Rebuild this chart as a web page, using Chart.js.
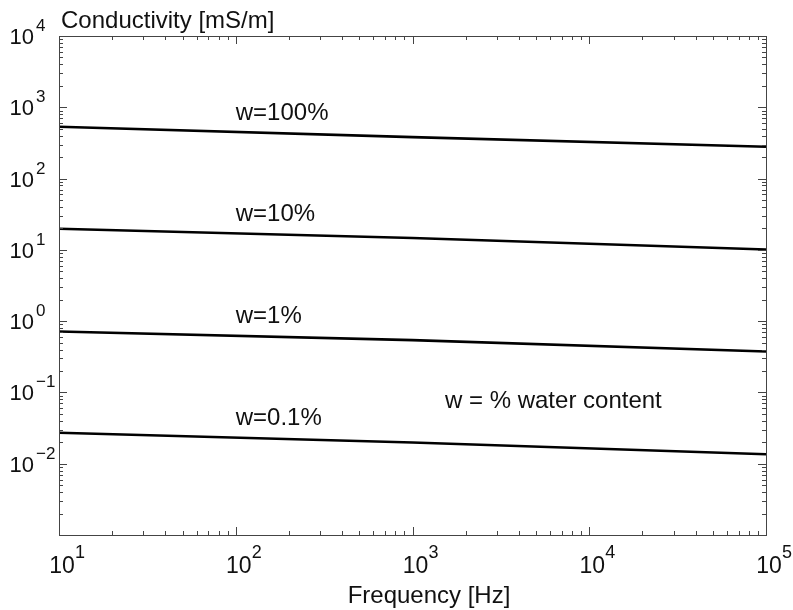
<!DOCTYPE html>
<html>
<head>
<meta charset="utf-8">
<script src="https://cdn.jsdelivr.net/npm/chart.js@4/dist/chart.umd.min.js"></script>
<style>
  body { margin: 0; background: #fff; }
  canvas { display: block; }
</style>
</head>
<body>
<canvas id="chart" width="793" height="610"></canvas>
<script>
// Frequency points (Hz)
const frequencies = [10, 1000, 100000];

// Conductivity [mS/m] for each water content
const w100 = [532, 381, 279];
const w10 = [19.8, 14.7, 10.1];
const w1 = [0.714, 0.541, 0.375];
const w01 = [0.0272, 0.0198, 0.0136];

const seriesLabels = ['w=100%', 'w=10%', 'w=1%', 'w=0.1%'];
const seriesValues = [w100, w10, w1, w01];

// Decade tick exponents
const xExponents = [1, 2, 3, 4, 5];
const yExponents = [4, 3, 2, 1, 0, -1, -2];

const FONT = '"Liberation Sans", Arial, sans-serif';

const datasets = seriesValues.map((vals, i) => ({
    label: seriesLabels[i],
    data: frequencies.map((f, j) => ({ x: f, y: vals[j] })),
    borderColor: '#000',
    borderWidth: 2.6,
    pointRadius: 0,
    showLine: true,
    fill: false
}));

// Draws the MATLAB-like box, inward ticks, power-of-ten labels and texts
const matlabAxes = {
    id: 'matlabAxes',
    afterDraw(chart) {
        const ctx = chart.ctx;
        const { left, right, top, bottom } = chart.chartArea;
        const xs = chart.scales.x;
        const ys = chart.scales.y;
        ctx.save();

        // frame
        ctx.strokeStyle = '#444';
        ctx.lineWidth = 1;
        ctx.strokeRect(left + 0.5, top + 0.5, right - left, bottom - top);

        // ticks
        ctx.beginPath();
        for (let e = 1; e <= 5; e++) {
            for (let m = 1; m <= 9; m++) {
                const v = m * Math.pow(10, e);
                if (v > 100000) break;
                const px = Math.round(xs.getPixelForValue(v)) + 0.5;
                const len = m === 1 ? 8 : 4;
                ctx.moveTo(px, bottom); ctx.lineTo(px, bottom - len);
                ctx.moveTo(px, top); ctx.lineTo(px, top + len);
            }
        }
        for (let e = -3; e <= 4; e++) {
            for (let m = 1; m <= 9; m++) {
                const v = m * Math.pow(10, e);
                if (v > 10000) break;
                const py = Math.round(ys.getPixelForValue(v)) + 0.5;
                const len = m === 1 ? 8 : 4;
                ctx.moveTo(left, py); ctx.lineTo(left + len, py);
                ctx.moveTo(right, py); ctx.lineTo(right - len, py);
            }
        }
        ctx.stroke();

        ctx.fillStyle = '#111';

        // y tick labels
        yExponents.forEach(e => {
            const py = ys.getPixelForValue(Math.pow(10, e));
            ctx.font = '22px ' + FONT;
            ctx.textAlign = 'right';
            ctx.textBaseline = 'middle';
            ctx.fillText('10', 34, py + 2);
            ctx.font = '17px ' + FONT;
            ctx.textAlign = 'left';
            ctx.textBaseline = 'alphabetic';
            ctx.fillText(e < 0 ? '\u2212' + Math.abs(e) : String(e), 36, py - 5);
        });

        // x tick labels
        xExponents.forEach(e => {
            const px = xs.getPixelForValue(Math.pow(10, e));
            ctx.font = '23px ' + FONT;
            ctx.textAlign = 'center';
            ctx.textBaseline = 'middle';
            ctx.fillText('10', px + 3, 567);
            ctx.font = '18px ' + FONT;
            ctx.textAlign = 'left';
            ctx.textBaseline = 'alphabetic';
            ctx.fillText(String(e), px + 16, 558);
        });

        // axis titles
        ctx.font = '24px ' + FONT;
        ctx.textAlign = 'left';
        ctx.textBaseline = 'alphabetic';
        ctx.fillText('Conductivity [mS/m]', 61, 28);
        ctx.textAlign = 'center';
        ctx.fillText('Frequency [Hz]', 429, 603);

        // series labels, placed above each line at 100 Hz
        ctx.textAlign = 'left';
        ctx.textBaseline = 'middle';
        chart.data.datasets.forEach((ds, i) => {
            const vals = seriesValues[i];
            const logv = Math.log10(vals[0]) + (Math.log10(vals[1]) - Math.log10(vals[0])) / 2;
            const py = ys.getPixelForValue(Math.pow(10, logv));
            ctx.fillText(ds.label, xs.getPixelForValue(100), py - 19);
        });

        ctx.fillText('w = % water content', 445, 401);
        ctx.restore();
    }
};

new Chart(document.getElementById('chart').getContext('2d'), {
    type: 'scatter',
    data: { datasets },
    options: {
        responsive: false,
        animation: false,
        layout: { padding: { left: 59, top: 36, right: 27, bottom: 75 } },
        plugins: { legend: { display: false }, tooltip: { enabled: false } },
        scales: {
            x: { type: 'logarithmic', min: 10, max: 100000, display: false },
            y: { type: 'logarithmic', min: 0.001, max: 10000, display: false }
        }
    },
    plugins: [matlabAxes]
});
</script>
</body>
</html>
